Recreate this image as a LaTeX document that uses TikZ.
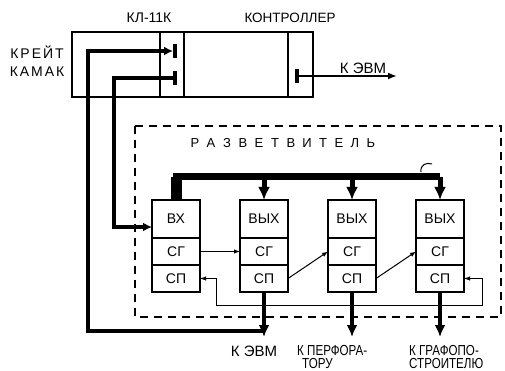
\documentclass[tikz,border=0pt]{standalone}
\usepackage{fontspec}
\setmainfont{Liberation Sans}
\newfontfamily\narrowfont{Liberation Sans}[FakeStretch=0.8]
\newfontfamily\spacedfont{Liberation Sans}[LetterSpace=14]
\usetikzlibrary{arrows.meta,positioning}

\begin{document}
\begin{tikzpicture}[x=1pt,y=-1pt,
  box/.style={draw, line width=1.2pt},
  frame/.style={draw, line width=1.2pt, dash pattern=on 8pt off 6pt},
  cell/.style={draw, line width=1.2pt, minimum width=48pt, inner sep=0pt, outer sep=0pt, font=\fontsize{14}{14}\selectfont},
  tee/.style={fill=black, inner sep=0pt, outer sep=0pt, minimum width=4pt, minimum height=14pt},
  busarr/.style={line width=3.5pt, -{Latex[length=9pt,width=9pt]}},
  topbus/.style={line width=7pt},
  downarr/.style={line width=5pt, -{Latex[length=13pt,width=12pt]}},
  sig/.style={line width=1pt, -{Latex[length=6pt,width=4.5pt]}},
  outarr/.style={line width=4.5pt, -{Latex[length=12pt,width=11pt]}},
  lab/.style={font=\fontsize{13}{13}\selectfont, inner sep=0pt}
]
\useasboundingbox (0,0) rectangle (505,371);

% crate and controller
\draw[box] (72,32) rectangle (313,97);
\draw[box] (160,32) -- (160,97);
\draw[box] (184,32) -- (184,97);
\draw[box] (288,32) -- (288,97);
\node[lab, font=\fontsize{14}{14}\selectfont] (kl) at (149,18) {КЛ-11К};
\node[lab, font=\fontsize{13.5}{14}\selectfont] (ctl) at (290,17.5) {КОНТРОЛЛЕР};
\node[lab, align=center, font=\spacedfont\fontsize{14}{18}\selectfont] (crate) at (37,61) {КРЕЙТ\\КАМАК};
\node[tee] (t1) at (175,51) {};
\node[tee] (t2) at (175,78) {};
\node[tee] (t3) at (297,76) {};
\coordinate (e1) at (397,76);
\draw[line width=2pt, -{Latex[length=9pt,width=7pt]}] (t3.east) -- (e1);
\node[lab, font=\fontsize{15}{15}\selectfont] (evm1) at (363,68) {К ЭВМ};

% splitter
\draw[frame] (135,126) rectangle (501,317);
\foreach \c [count=\i from 0] in {Р,А,З,В,Е,Т,В,И,Т,Е,Л,Ь}
  \node[lab] (r\i) at (195+16*\i,143) {\c};
\foreach \i/\t in {1/ВХ,2/ВЫХ,3/ВЫХ,4/ВЫХ} {
  \node[cell, minimum height=38pt] (m\i) at (88+88*\i,219) {\t};
  \node[cell, minimum height=27pt, below=0pt of m\i] (g\i) {СГ};
  \node[cell, minimum height=27pt, below=0pt of g\i] (p\i) {СП};
}

% internal bus
\coordinate (bt) at (440,177);
\draw[line width=11pt] (m1.north) -- (m1.north |- bt);
\draw[topbus] (m1.north) |- (bt);
\foreach \i in {2,3,4}
  \draw[downarr] (m\i.north |- bt) -- (m\i.north);
\draw[line width=1pt] (421,172) .. controls (420,165) and (426,162) .. (432,164);

% chain
\draw[sig] (g1.east) -- (g2.west);
\draw[sig] (p2.east) -- (g3.west);
\draw[sig] (p3.east) -- (g4.west);
\coordinate (lr) at (482,305);
\coordinate (ll) at (216,305);
\draw[sig, {Latex[length=6pt,width=4.5pt]}-{Latex[length=6pt,width=4.5pt]}] (p4.east) -| (lr) -- (ll) |- (p1.east);

% outputs
\foreach \i in {2,3,4}
  \draw[outarr] (p\i.south) -- ++(0,45) coordinate (o\i);
\node[lab, font=\fontsize{15}{15}\selectfont] (evm2) at (254,351) {К ЭВМ};
\node[lab, align=left, anchor=north west, font=\narrowfont\fontsize{14.5}{13.5}\selectfont] (perf) at (297,345) {К ПЕРФОРА-\\\hspace{5pt}ТОРУ};
\node[lab, align=left, anchor=north west, font=\narrowfont\fontsize{14.5}{13.5}\selectfont] (graf) at (409,345) {К ГРАФОПО-\\СТРОИТЕЛЮ};

% crate buses
\coordinate (j) at (264,331);
\coordinate (c1) at (88,51);
\coordinate (c2) at (114,227);
\draw[busarr] (j) -| (c1) -- (t1.west);
\draw[busarr] (t2.west) -| (c2) -- (m1.west |- c2);
\end{tikzpicture}
\end{document}
